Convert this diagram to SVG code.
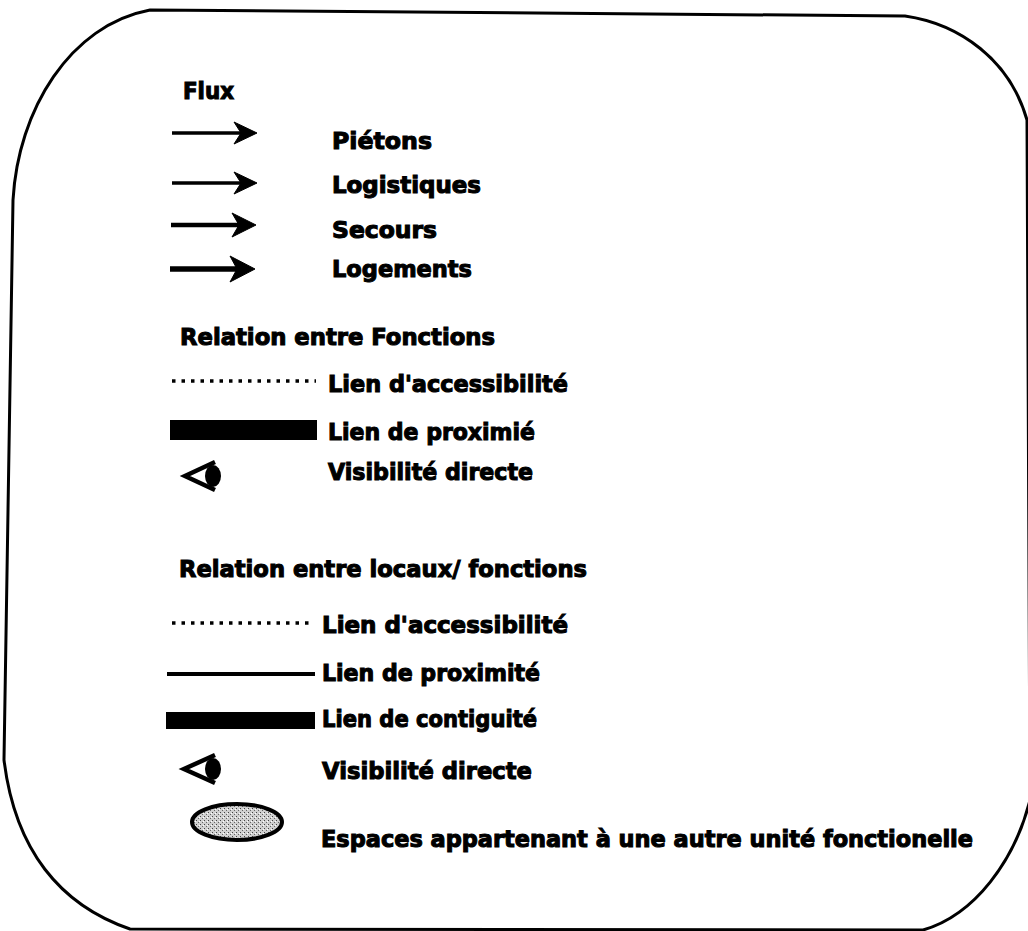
<svg xmlns="http://www.w3.org/2000/svg" width="1028" height="931" viewBox="0 0 1028 931">
  <style>
    .t { font-family: "DejaVu Sans", "Liberation Sans", sans-serif; font-weight: bold; font-size: 23px; fill: #000; stroke: #000; stroke-width: 1.1; paint-order: stroke; }
    .shaft { stroke: #000; fill: none; }
    .head { fill: #000; stroke: #000; stroke-width: 1; stroke-linejoin: miter; }
    .dots { stroke: #000; stroke-width: 3.5; stroke-dasharray: 3.5 6; fill: none; }
    .eye { fill: none; stroke: #000; stroke-width: 4.5; stroke-linejoin: miter; }
  </style>
  <defs>
    <pattern id="stip" width="4" height="4" patternUnits="userSpaceOnUse">
      <rect width="4" height="4" fill="#d0d0d0"/>
      <rect x="0" y="0" width="1" height="1" fill="#444"/>
      <rect x="2" y="2" width="1" height="1" fill="#666"/>
      <rect x="3" y="1" width="1" height="1" fill="#fff"/>
    </pattern>
  </defs>
  <rect width="1028" height="931" fill="#fff"/>

  <g id="frame">
    <path d="M 150 10 L 905 16 C 960 24, 1010 60, 1027 120 L 1030 800 C 1015 860, 975 915, 923 930 L 130 929 C 60 905, 15 850, 4 760 L 13 200 C 18 110, 70 25, 150 10 Z" fill="none" stroke="#000" stroke-width="3"/>
  </g>

  <g id="section-flux">
    <text class="t" x="183" y="99" textLength="51" lengthAdjust="spacingAndGlyphs">Flux</text>
  </g>

  <g id="connectors">
    <g id="arrow-pietons">
      <line class="shaft" x1="172" y1="133" x2="245" y2="133" stroke-width="3.5"/>
      <polygon class="head" points="257,133 234,122 241,133 234,144"/>
    </g>
    <g id="arrow-logistiques">
      <line class="shaft" x1="172" y1="183" x2="245" y2="183" stroke-width="3.5"/>
      <polygon class="head" points="257,183 234,172 241,183 234,194"/>
    </g>
    <g id="arrow-secours">
      <line class="shaft" x1="171" y1="225" x2="245" y2="225" stroke-width="4.5"/>
      <polygon class="head" points="256,225 232,213 239,225 232,237"/>
    </g>
    <g id="arrow-logements">
      <line class="shaft" x1="170" y1="269" x2="244" y2="269" stroke-width="5.5"/>
      <polygon class="head" points="255,269 230,256 237,269 230,282"/>
    </g>
    <g id="fn-dotted">
      <line class="dots" x1="172" y1="381" x2="316" y2="381"/>
    </g>
    <g id="fn-bar">
      <rect x="170" y="420" width="147" height="20" fill="#000"/>
    </g>
    <g id="loc-dotted">
      <line class="dots" x1="172" y1="623" x2="314" y2="623"/>
    </g>
    <g id="loc-line">
      <line x1="167" y1="674" x2="315" y2="674" stroke="#000" stroke-width="4"/>
    </g>
    <g id="loc-bar">
      <rect x="166" y="712" width="149" height="17" fill="#000"/>
    </g>
  </g>

  <g id="labels-flux">
    <text class="t" x="332" y="149" textLength="100" lengthAdjust="spacingAndGlyphs">Piétons</text>
    <text class="t" x="332" y="193" textLength="149" lengthAdjust="spacingAndGlyphs">Logistiques</text>
    <text class="t" x="332" y="238" textLength="105" lengthAdjust="spacingAndGlyphs">Secours</text>
    <text class="t" x="332" y="277" textLength="140" lengthAdjust="spacingAndGlyphs">Logements</text>
  </g>

  <g id="section-fonctions">
    <text class="t" x="180" y="345" textLength="315" lengthAdjust="spacingAndGlyphs">Relation entre Fonctions</text>
    <text class="t" x="328" y="392" textLength="240" lengthAdjust="spacingAndGlyphs">Lien d'accessibilité</text>
    <text class="t" x="328" y="440" textLength="207" lengthAdjust="spacingAndGlyphs">Lien de proximié</text>
    <g id="eye-1">
      <polyline class="eye" points="215,462 185,476 215,490"/>
      <ellipse cx="213" cy="476" rx="8" ry="11" fill="#000"/>
    </g>
    <text class="t" x="328" y="480" textLength="205" lengthAdjust="spacingAndGlyphs">Visibilité directe</text>
  </g>

  <g id="section-locaux">
    <text class="t" x="179" y="577" textLength="408" lengthAdjust="spacingAndGlyphs">Relation entre locaux/ fonctions</text>
    <text class="t" x="322" y="633" textLength="246" lengthAdjust="spacingAndGlyphs">Lien d'accessibilité</text>
    <text class="t" x="322" y="681" textLength="218" lengthAdjust="spacingAndGlyphs">Lien de proximité</text>
    <text class="t" x="322" y="727" textLength="215" lengthAdjust="spacingAndGlyphs">Lien de contiguité</text>
    <g id="eye-2">
      <polyline class="eye" points="215,755 184,769 215,783"/>
      <ellipse cx="213" cy="769" rx="8" ry="11" fill="#000"/>
    </g>
    <text class="t" x="322" y="779" textLength="210" lengthAdjust="spacingAndGlyphs">Visibilité directe</text>
    <g id="other-unit">
      <ellipse cx="237" cy="822" rx="45" ry="18" fill="url(#stip)" stroke="#000" stroke-width="4"/>
    </g>
    <text class="t" x="321" y="847" textLength="652" lengthAdjust="spacingAndGlyphs">Espaces appartenant à une autre unité fonctionelle</text>
  </g>
</svg>
